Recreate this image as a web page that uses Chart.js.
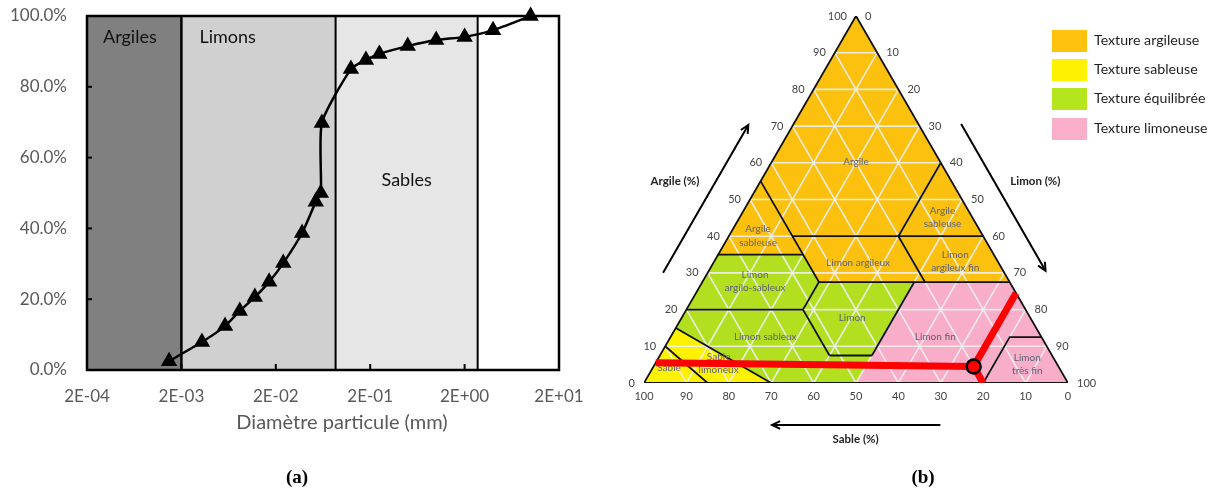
<!DOCTYPE html>
<html lang="fr">
<head>
<meta charset="utf-8">
<script src="https://cdn.jsdelivr.net/npm/chart.js@4.4.1/dist/chart.umd.min.js"></script>
<style>
  html, body { margin: 0; padding: 0; background: #fff; }
  body { width: 1224px; height: 491px; position: relative; overflow: hidden; font-family: Lato, 'Open Sans', sans-serif; }
  #courbe { position: absolute; left: 0; top: 0; }
  #triangle { position: absolute; left: 620px; top: 0; }
  #legende { position: absolute; left: 1052px; top: 0; }
  .ligne { position: absolute; left: 0; height: 22px; white-space: nowrap; }
  .carre { position: absolute; left: 0; top: 0; width: 35px; height: 22px; }
  .texte { position: absolute; left: 42px; top: 1px; font-size: 14.2px; color: #1e1e1e; }
  .legende-a, .legende-b { position: absolute; top: 466px; width: 60px; margin-left: -30px; text-align: center;
    font: bold 19px 'Liberation Serif', 'DejaVu Serif', serif; }
</style>
</head>
<body>
<canvas id="courbe" width="600" height="491"></canvas>
<canvas id="triangle" width="604" height="491"></canvas>
<div id="legende"></div>
<div class="legende-a" style="left:297px">(a)</div>
<div class="legende-b" style="left:923px">(b)</div>
<script>
// ---- (a) courbe granulométrique ----
const diametres = [0.00148, 0.0033, 0.0058, 0.0083, 0.012, 0.017, 0.024, 0.038, 0.053, 0.060, 0.0615, 0.125, 0.18, 0.25, 0.5, 1, 2, 4, 10];
const cumul = [2.5, 7.9, 12.4, 16.7, 20.6, 24.9, 30.2, 38.7, 47.5, 50.0, 69.8, 85.0, 87.6, 89.3, 91.5, 93.2, 94.1, 96.0, 100];
const xTicks = [2e-4, 2e-3, 2e-2, 2e-1, 2, 20];
const xTickLabels = ['2E-04', '2E-03', '2E-02', '2E-01', '2E+00', '2E+01'];
const yTicks = [0, 20, 40, 60, 80, 100];
const classes = ['Argiles', 'Limons', 'Sables', ''];
const limitesClasses = [2e-4, 2e-3, 0.086, 2.75, 20];
const couleursClasses = ['#808080', '#d0d0d0', '#e6e6e6', '#ffffff'];

// ---- (b) triangle des textures : sommets [argile, limon] ----
const zoneArgile = [[100, 0], [55, 0], [40, 15], [40, 40], [60, 40]];
const zoneArgileSableuseG = [[55, 0], [35, 0], [35, 20], [40, 15]];
const zoneArgileSableuseD = [[60, 40], [40, 40], [40, 60]];
const zoneLimonArgileux = [[40, 15], [40, 40], [27.5, 52.5], [27.5, 27.5]];
const zoneLimonArgileuxFin = [[40, 40], [40, 60], [27.5, 72.5], [27.5, 52.5]];
const zoneLimonArgiloSableux = [[35, 0], [35, 20], [27.5, 27.5], [20, 27.5], [20, 0]];
const zoneLimon = [[27.5, 27.5], [27.5, 50], [7.5, 50], [7.5, 40], [20, 27.5]];
const zoneLimonSableux = [[20, 0], [20, 27.5], [7.5, 40], [7.5, 50], [0, 50], [0, 30], [15, 0]];
const zoneSableLimoneux = [[15, 0], [0, 30], [0, 15], [10, 0]];
const zoneSable = [[10, 0], [0, 15], [0, 0]];
const zoneLimonFin = [[27.5, 50], [27.5, 72.5], [12.5, 87.5], [12.5, 80], [0, 80], [0, 50]];
const zoneLimonTresFin = [[12.5, 80], [12.5, 87.5], [0, 100], [0, 80]];

const limites = [
  [[0, 0], [100, 0], [0, 100], [0, 0]],
  [[55, 0], [27.5, 27.5]],
  [[40, 15], [40, 60]],
  [[60, 40], [40, 40]],
  [[40, 40], [27.5, 52.5]],
  [[35, 0], [35, 20]],
  [[27.5, 27.5], [27.5, 72.5]],
  [[27.5, 27.5], [20, 27.5]],
  [[20, 0], [20, 27.5]],
  [[20, 27.5], [7.5, 40]],
  [[7.5, 40], [7.5, 50]],
  [[27.5, 50], [7.5, 50]],
  [[15, 0], [0, 30]],
  [[10, 0], [0, 15]],
  [[0, 80], [12.5, 80], [12.5, 87.5]]
];

const echantillon = [4.5, 75.5];
const traitArgile = [[5.5, 0], [4.5, 75.5]];
const traitLimon = [[4.5, 75.5], [24.5, 75.5]];
const traitSable = [[4.5, 75.5], [0, 80]];

const graduations = [0, 10, 20, 30, 40, 50, 60, 70, 80, 90, 100];

const legendeTextes = ['Texture argileuse', 'Texture sableuse', 'Texture équilibrée', 'Texture limoneuse'];
const legendeCouleurs = ['#ffc20e', '#fff200', '#b5e61d', '#f9aec9'];

const ORANGE = '#fcc10f', JAUNE = '#fff200', VERT = '#b2e021', ROSE = '#f8aec8';

const zones = [
  { pts: zoneArgile, c: ORANGE }, { pts: zoneArgileSableuseG, c: ORANGE }, { pts: zoneArgileSableuseD, c: ORANGE },
  { pts: zoneLimonArgileux, c: ORANGE }, { pts: zoneLimonArgileuxFin, c: ORANGE },
  { pts: zoneLimonArgiloSableux, c: VERT }, { pts: zoneLimon, c: VERT }, { pts: zoneLimonSableux, c: VERT },
  { pts: zoneSableLimoneux, c: JAUNE }, { pts: zoneSable, c: JAUNE },
  { pts: zoneLimonFin, c: ROSE }, { pts: zoneLimonTresFin, c: ROSE }
];

// étiquettes des zones, en coordonnées du graphique
const etiquettes = [
  { t: ['Argile'], x: 50, y: 52.2 },
  { t: ['Argile', 'sableuse'], x: 26.9, y: 34.7 },
  { t: ['Argile', 'sableuse'], x: 70.4, y: 39.1 },
  { t: ['Limon argileux'], x: 50.5, y: 28.3 },
  { t: ['Limon', 'argileux fin'], x: 73.4, y: 28.7 },
  { t: ['Limon', 'argilo-sableux'], x: 26.2, y: 24.0 },
  { t: ['Limon sableux'], x: 28.6, y: 10.9 },
  { t: ['Limon'], x: 49.1, y: 15.3 },
  { t: ['Limon fin'], x: 68.7, y: 10.9 },
  { t: ['Limon', 'très fin'], x: 90.4, y: 4.4 },
  { t: ['Sable'], x: 5.9, y: 3.5 },
  { t: ['Sable', 'limoneux'], x: 17.6, y: 4.6 }
];

Chart.defaults.font.family = "Lato, 'Open Sans', sans-serif";

// --------- (a) ---------
const fondA = {
  id: 'fondA',
  beforeDatasetsDraw(chart) {
    const { ctx, chartArea: a, scales: { x, y } } = chart;
    ctx.save();
    for (let i = 0; i < classes.length; i++) {
      const x0 = x.getPixelForValue(limitesClasses[i]);
      const x1 = x.getPixelForValue(limitesClasses[i + 1]);
      ctx.fillStyle = couleursClasses[i];
      ctx.fillRect(x0, a.top, x1 - x0, a.bottom - a.top);
    }
    ctx.strokeStyle = '#000';
    for (let i = 1; i < limitesClasses.length - 1; i++) {
      const px = x.getPixelForValue(limitesClasses[i]);
      ctx.lineWidth = i === 1 ? 2.5 : 2;
      ctx.beginPath(); ctx.moveTo(px, a.top); ctx.lineTo(px, a.bottom); ctx.stroke();
    }
    // petites graduations intérieures
    ctx.lineWidth = 2;
    yTicks.forEach(v => {
      const py = y.getPixelForValue(v);
      ctx.beginPath(); ctx.moveTo(a.left, py); ctx.lineTo(a.left + 5, py); ctx.stroke();
    });
    xTicks.forEach(v => {
      const px = x.getPixelForValue(v);
      ctx.beginPath(); ctx.moveTo(px, a.bottom); ctx.lineTo(px, a.bottom - 6); ctx.stroke();
    });
    ctx.lineWidth = 2.5;
    ctx.strokeRect(a.left, a.top, a.right - a.left, a.bottom - a.top);
    // noms des classes
    ctx.fillStyle = '#111';
    ctx.font = '18px Lato, sans-serif';
    ctx.textBaseline = 'middle';
    ctx.textAlign = 'left';
    ctx.fillText(classes[0], x.getPixelForValue(limitesClasses[0]) + 16, y.getPixelForValue(94));
    ctx.fillText(classes[1], x.getPixelForValue(limitesClasses[1]) + 18, y.getPixelForValue(94));
    ctx.textAlign = 'center';
    ctx.fillText(classes[2], (x.getPixelForValue(limitesClasses[2]) + x.getPixelForValue(limitesClasses[3])) / 2, y.getPixelForValue(53.5));
    // titre de l'axe des x
    ctx.fillStyle = '#595959';
    ctx.font = '20px Lato, sans-serif';
    ctx.fillText('Diamètre particule (mm)', 342, 423);
    ctx.restore();
  }
};

new Chart(document.getElementById('courbe'), {
  type: 'scatter',
  data: {
    datasets: [{
      data: diametres.map((d, i) => ({ x: d, y: cumul[i] })),
      showLine: true,
      borderColor: '#000',
      backgroundColor: '#000',
      borderWidth: 2.5,
      pointStyle: 'triangle',
      pointRadius: 7,
      tension: 0.2,
      clip: false
    }]
  },
  options: {
    responsive: false,
    animation: false,
    layout: { autoPadding: false, padding: { top: 16, right: 41, left: 0, bottom: 0 } },
    plugins: { legend: { display: false }, tooltip: { enabled: false } },
    scales: {
      x: {
        type: 'logarithmic', min: 2e-4, max: 20,
        afterBuildTicks(s) { s.ticks = xTicks.map(v => ({ value: v })); },
        afterFit(s) { s.height = 121; s.paddingLeft = 0; s.paddingRight = 0; },
        grid: { display: false, drawTicks: false },
        border: { display: false },
        ticks: { callback: (v, i) => xTickLabels[i], color: '#595959', font: { size: 17 }, padding: 16, maxRotation: 0, autoSkip: false }
      },
      y: {
        min: 0, max: 100,
        afterBuildTicks(s) { s.ticks = yTicks.map(v => ({ value: v })); },
        afterFit(s) { s.width = 87; s.paddingTop = 0; s.paddingBottom = 0; },
        grid: { display: false, drawTicks: false },
        border: { display: false },
        ticks: { callback: v => v.toFixed(1) + '%', color: '#595959', font: { size: 17 }, padding: 20 }
      }
    }
  },
  plugins: [fondA]
});

// --------- (b) ---------
const R3 = Math.sqrt(3) / 2;
function tern(argile, limon) { return { x: limon + argile / 2, y: argile * R3 }; }
function seg(pts) { return pts.map(p => tern(p[0], p[1])); }

function fleche(ctx, x0, y0, x1, y1) {
  const ang = Math.atan2(y1 - y0, x1 - x0), h = 9;
  ctx.beginPath(); ctx.moveTo(x0, y0); ctx.lineTo(x1, y1); ctx.stroke();
  ctx.beginPath();
  ctx.moveTo(x1 - h * Math.cos(ang - 0.45), y1 - h * Math.sin(ang - 0.45));
  ctx.lineTo(x1, y1);
  ctx.lineTo(x1 - h * Math.cos(ang + 0.45), y1 - h * Math.sin(ang + 0.45));
  ctx.stroke();
}

const dessinTriangle = {
  id: 'dessinTriangle',
  beforeDatasetsDraw(chart) {
    const { ctx, scales: { x, y } } = chart;
    ctx.save();
    zones.forEach(z => {
      ctx.beginPath();
      seg(z.pts).forEach((p, i) => {
        const px = x.getPixelForValue(p.x), py = y.getPixelForValue(p.y);
        if (i) ctx.lineTo(px, py); else ctx.moveTo(px, py);
      });
      ctx.closePath();
      ctx.fillStyle = z.c;
      ctx.fill();
    });
    ctx.restore();
  },
  beforeDatasetDraw(chart, args) {
    if (chart.data.datasets[args.index].label !== 'traitArgile') return;
    const { ctx, scales: { x, y } } = chart;
    ctx.save();
    ctx.font = '10px Lato, sans-serif';
    ctx.fillStyle = '#5d6277';
    ctx.textAlign = 'center';
    ctx.textBaseline = 'middle';
    etiquettes.forEach(e => {
      const px = x.getPixelForValue(e.x), py = y.getPixelForValue(e.y);
      const n = e.t.length;
      e.t.forEach((t, i) => ctx.fillText(t, px, py + (i - (n - 1) / 2) * 13.5));
    });
    ctx.restore();
  },
  afterDraw(chart) {
    const { ctx, scales: { x, y } } = chart;
    ctx.save();
    ctx.font = '11px Lato, sans-serif';
    ctx.fillStyle = '#444';
    ctx.textBaseline = 'middle';
    graduations.forEach(v => {
      // argile, côté gauche
      let p = tern(v, 0);
      ctx.textAlign = 'right';
      ctx.fillText(String(v), x.getPixelForValue(p.x) - 9, y.getPixelForValue(p.y));
      // limon, côté droit
      p = tern(100 - v, v);
      ctx.textAlign = 'left';
      ctx.fillText(String(v), x.getPixelForValue(p.x) + 9, y.getPixelForValue(p.y));
      // sable, base
      p = tern(0, 100 - v);
      ctx.textAlign = 'center';
      ctx.fillText(String(v), x.getPixelForValue(p.x), y.getPixelForValue(p.y) + 13);
    });
    ctx.font = 'bold 11.5px Lato, sans-serif';
    ctx.fillStyle = '#222';
    ctx.textAlign = 'center';
    ctx.fillText('Argile (%)', x.getPixelForValue(7.3), y.getPixelForValue(47.5));
    ctx.fillText('Limon (%)', x.getPixelForValue(92.3), y.getPixelForValue(47.5));
    ctx.fillText('Sable (%)', x.getPixelForValue(49.9), y.getPixelForValue(-13.2));
    ctx.strokeStyle = '#000';
    ctx.lineWidth = 2;
    fleche(ctx, x.getPixelForValue(4.5), y.getPixelForValue(26.0), x.getPixelForValue(24.6), y.getPixelForValue(60.9));
    fleche(ctx, x.getPixelForValue(74.8), y.getPixelForValue(61.1), x.getPixelForValue(94.7), y.getPixelForValue(26.5));
    fleche(ctx, x.getPixelForValue(69.9), y.getPixelForValue(-9.9), x.getPixelForValue(30.2), y.getPixelForValue(-9.9));
    ctx.restore();
  }
};

const jeux = [];
for (let k = 10; k < 100; k += 10) {
  [[[k, 0], [k, 100 - k]], [[0, k], [100 - k, k]], [[0, 100 - k], [100 - k, 0]]].forEach(s => {
    jeux.push({ data: seg(s), showLine: true, pointRadius: 0, borderColor: 'rgba(240,240,240,0.9)', borderWidth: 1.6, order: 10 });
  });
}
limites.forEach(s => {
  jeux.push({ data: seg(s), showLine: true, pointRadius: 0, borderColor: '#111', borderWidth: 1.8, order: 5 });
});
jeux.push({ label: 'traitArgile', data: seg(traitArgile), showLine: true, pointRadius: 0, borderColor: '#ff0000', borderWidth: 7, borderCapStyle: 'butt', order: 3 });
jeux.push({ data: seg(traitLimon), showLine: true, pointRadius: 0, borderColor: '#ff0000', borderWidth: 7, borderCapStyle: 'butt', order: 2 });
jeux.push({ data: seg(traitSable), showLine: true, pointRadius: 0, borderColor: '#ff0000', borderWidth: 7, borderCapStyle: 'butt', order: 2 });
jeux.push({ data: [tern(echantillon[0], echantillon[1])], pointRadius: 7, backgroundColor: '#ff0000', borderColor: '#000', borderWidth: 2.5, order: 1 });

new Chart(document.getElementById('triangle'), {
  type: 'scatter',
  data: { datasets: jeux },
  options: {
    responsive: false,
    animation: false,
    layout: { padding: { left: 24, right: 156, top: 16, bottom: 108 } },
    plugins: { legend: { display: false }, tooltip: { enabled: false } },
    scales: {
      x: { type: 'linear', display: false, min: 0, max: 100 },
      y: { type: 'linear', display: false, min: 0, max: 100 * R3 }
    }
  },
  plugins: [dessinTriangle]
});

// légende
const lignesY = [41, 70, 99, 129];
const boite = document.getElementById('legende');
legendeTextes.forEach((t, i) => {
  const l = document.createElement('div');
  l.className = 'ligne';
  l.style.top = (lignesY[i] - 11) + 'px';
  l.innerHTML = '<span class="carre" style="background:' + legendeCouleurs[i] + '"></span><span class="texte">' + t + '</span>';
  boite.appendChild(l);
});
</script>
</body>
</html>
